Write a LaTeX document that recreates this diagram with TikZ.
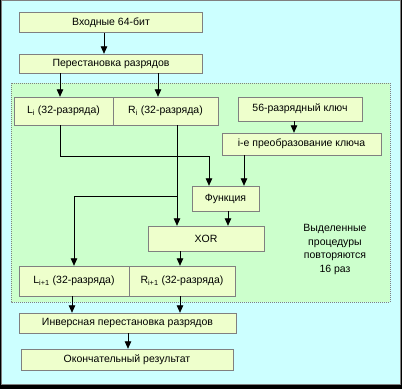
\documentclass[tikz,border=0pt]{standalone}
\usepackage{fontspec}
\setmainfont{Liberation Sans}
\usetikzlibrary{arrows.meta,positioning,calc}
\definecolor{sky}{RGB}{204,255,255}
\definecolor{meadow}{RGB}{204,255,204}
\definecolor{cream}{RGB}{238,255,204}
\definecolor{rim}{RGB}{128,128,128}
\tikzset{
  >={Triangle[length=7.5pt,width=6.5pt]},
  block/.style={draw=rim,fill=cream,inner sep=0pt,minimum width=#1,
    font=\fontsize{10.5}{12}\selectfont,anchor=center},
  block/.default=100pt,
  wire/.style={->,thick,draw=black},
  bus/.style={thick,draw=black},
  note/.style={font=\fontsize{10.5}{13.7}\selectfont,align=center},
}

\begin{document}
\begin{tikzpicture}[x=1pt,y=-1pt]
  \useasboundingbox (0,0) rectangle (402,389);
  % frame and round area
  \fill[black] (0,0) rectangle (402,389);
  \fill[sky,draw=rim] (1.5,0.5) rectangle (400.5,384.5);
  \fill[meadow,draw=rim,dash pattern=on 1pt off 1pt] (11,83) rectangle (390,302);

  % boxes
  \node[block=183pt,minimum height=20pt] (in) at (111,22.5) {Входные 64-бит};
  \node[block=183pt,minimum height=19pt] (perm) at (111,63.5) {Перестановка разрядов};
  \node[block=99pt,minimum height=28pt] (li) at (63.5,111) {L\textsubscript{i} (32-разряда)};
  \node[block=105pt,minimum height=28pt] (ri) at (165.5,111) {R\textsubscript{i} (32-разряда)};
  \node[block=124pt,minimum height=24pt] (key) at (300,109) {56-разрядный ключ};
  \node[block=159pt,minimum height=22pt] (ktr) at (301.5,144) {i-е преобразование ключа};
  \node[block=67pt,minimum height=25pt] (func) at (225.5,198.5) {Функция};
  \node[block=116pt,minimum height=25pt] (xor) at (206,238.5) {XOR};
  \node[block=110pt,minimum height=30pt] (ln) at (74,281) {L\textsubscript{i+1} (32-разряда)};
  \node[block=106pt,minimum height=30pt] (rn) at (182,281) {R\textsubscript{i+1} (32-разряда)};
  \node[block=217pt,minimum height=20pt] (inv) at (127.5,323) {Инверсная перестановка разрядов};
  \node[block=212pt,minimum height=21pt] (res) at (127,359.5) {Окончательный результат};
  \node[note] (rep) at (335,249.5) {Выделенные\\процедуры\\повторяются\\16 раз};

  % bends of the round
  \coordinate (lbend) at ([xshift=-3.5pt]li.south |- 0,156);
  \coordinate (fbend) at ([xshift=-16.5pt]func.north |- 0,156);
  \coordinate (rtap) at ([xshift=11.5pt]ri.south |- 0,196);
  \coordinate (ltap) at (ln.north |- 0,196);

  % connectors
  \draw[wire] ([xshift=-7pt]in.south) -- ([xshift=-7pt]perm.north);
  \draw[wire] (perm.south -| 60,0) -- (li.north -| 60,0);
  \draw[wire] (perm.south -| 158,0) -- (ri.north -| 158,0);
  \draw[wire] ([xshift=-6pt]key.south) -- ([xshift=-6pt]key.south |- ktr.north);
  \draw[bus] ([xshift=-3.5pt]li.south) -- (lbend) -- (fbend);
  \draw[wire] (fbend) -- ([xshift=-16.5pt]func.north);
  \draw[wire] ([xshift=-57.5pt]ktr.south) -- ([xshift=-57.5pt]ktr.south |- func.north);
  \draw[wire] ([xshift=11.5pt]ri.south) -- ([xshift=11.5pt]ri.south |- xor.north);
  \draw[bus] (rtap) -- (ltap);
  \draw[wire] (ltap) -- (ln.north);
  \draw[wire] ([xshift=2.5pt]func.south) -- ([xshift=2.5pt]func.south |- xor.north);
  \draw[wire] ([xshift=-2pt]rn.north |- xor.south) -- ([xshift=-2pt]rn.north);
  \draw[wire] ([xshift=-2pt]ln.south) -- ([xshift=-2pt]ln.south |- inv.north);
  \draw[wire] ([xshift=-2pt]rn.south) -- ([xshift=-2pt]rn.south |- inv.north);
  \draw[wire] ([xshift=0.5pt]inv.south) -- ([xshift=0.5pt]inv.south |- res.north);
\end{tikzpicture}
\end{document}
